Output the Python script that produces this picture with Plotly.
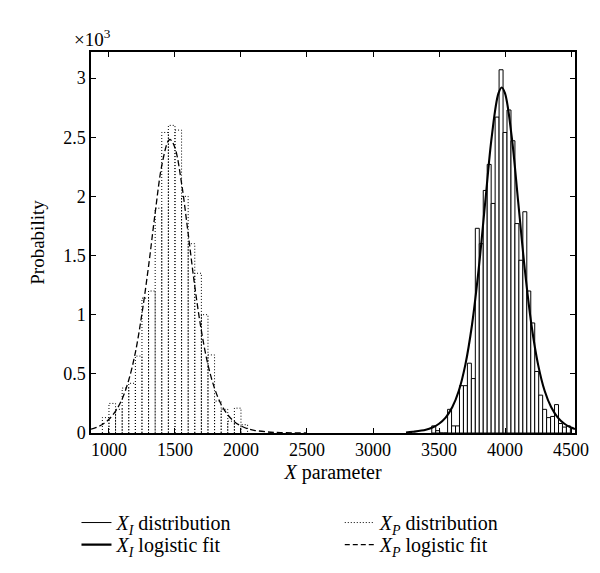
import plotly.graph_objects as go

# ---------------- data ----------------
# X_I distribution histogram (bin width 30)
xi_bin_width = 30
xi_centers = [3460, 3490, 3520, 3550, 3580, 3610, 3640, 3670, 3700, 3730,
              3760, 3790, 3820, 3850, 3880, 3910, 3940, 3970, 4000, 4030,
              4060, 4090, 4120, 4150, 4180, 4210, 4240, 4270, 4300, 4330,
              4360, 4390, 4420, 4450, 4480]
xi_values = [0.06, 0.02, 0.0, 0.0, 0.20, 0.06, 0.06, 0.40, 0.40, 0.59,
             0.46, 1.73, 1.60, 2.05, 2.27, 1.94, 2.67, 3.07, 2.54, 2.73,
             2.47, 1.77, 1.46, 1.87, 1.20, 0.93, 0.52, 0.32, 0.20, 0.13,
             0.14, 0.24, 0.08, 0.05, 0.06]

# X_P distribution histogram (bin width 50)
xp_bin_width = 50
xp_centers = [975, 1025, 1075, 1125, 1175, 1225, 1275, 1325, 1375, 1425,
              1475, 1525, 1575, 1625, 1675, 1725, 1775, 1825, 1875, 1925,
              1975, 2025]
xp_values = [0.13, 0.25, 0.20, 0.38, 0.42, 0.65, 1.14, 1.20, 1.90, 2.54,
             2.60, 2.56, 2.00, 1.60, 1.35, 1.00, 0.66, 0.27, 0.20, 0.10,
             0.21, 0.07]

# X_I logistic fit
xi_fit_x = [3250, 3300, 3400, 3450, 3500, 3550, 3600, 3650, 3700, 3750,
            3800, 3850, 3900, 3950, 3975, 4000, 4050, 4100, 4150, 4200,
            4250, 4300, 4350, 4400, 4450, 4500, 4530]
xi_fit_y = [0.004, 0.010, 0.027, 0.046, 0.078, 0.130, 0.217, 0.357, 0.58, 0.915,
            1.38, 1.95, 2.51, 2.87, 2.92, 2.87, 2.51, 1.95, 1.38, 0.915,
            0.58, 0.357, 0.217, 0.130, 0.078, 0.046, 0.034]

# X_P logistic fit
xp_fit_x = [864, 900, 950, 1000, 1050, 1100, 1150, 1200, 1250, 1300,
            1350, 1400, 1450, 1465, 1500, 1550, 1600, 1650, 1700, 1750,
            1800, 1850, 1900, 1950, 2000, 2050, 2100, 2200, 2300, 2500]
xp_fit_y = [0.032, 0.045, 0.072, 0.116, 0.184, 0.288, 0.448, 0.68, 1.01, 1.41,
            1.86, 2.26, 2.47, 2.48, 2.41, 2.11, 1.685, 1.24, 0.865, 0.577,
            0.377, 0.241, 0.153, 0.096, 0.060, 0.037, 0.023, 0.009, 0.0035, 0.0005]

x_ticks = [1000, 1500, 2000, 2500, 3000, 3500, 4000, 4500]
y_ticks = [0, 0.5, 1, 1.5, 2, 2.5, 3]
y_ticklabels = ["0", "0.5", "1", "1.5", "2", "2.5", "3"]

# ---------------- figure ----------------
FONT = "Liberation Serif"

# dotted outline of X_P histogram, derived from bin centres/values
xp_outline_x, xp_outline_y = [], []
for c, h in zip(xp_centers, xp_values):
    l, r = c - xp_bin_width / 2, c + xp_bin_width / 2
    xp_outline_x += [l, l, r, r, None]
    xp_outline_y += [0, h, h, 0, None]

fig = go.Figure()

fig.add_trace(go.Bar(
    x=xi_centers, y=xi_values, width=xi_bin_width,
    marker=dict(color="white", line=dict(color="black", width=1)),
    showlegend=False, hoverinfo="x+y"))

fig.add_trace(go.Scatter(
    x=xp_outline_x, y=xp_outline_y, mode="lines",
    line=dict(color="black", width=1, dash="1px,2px"),
    showlegend=False))

fig.add_trace(go.Scatter(
    x=xp_fit_x, y=xp_fit_y, mode="lines", line_shape="spline",
    line=dict(color="black", width=1.3, dash="6px,3px"),
    showlegend=False))

fig.add_trace(go.Scatter(
    x=xi_fit_x, y=xi_fit_y, mode="lines", line_shape="spline",
    line=dict(color="black", width=2.1),
    showlegend=False))

# legend entries (line samples like the reference), one legend box per entry
legend_items = [
    ("<i>X<sub>I</sub></i> distribution", dict(color="black", width=1), "legend"),
    ("<i>X<sub>I</sub></i> logistic fit", dict(color="black", width=2.2), "legend2"),
    ("<i>X<sub>P</sub></i> distribution", dict(color="black", width=1, dash="1px,2px"), "legend3"),
    ("<i>X<sub>P</sub></i> logistic fit", dict(color="black", width=1.3, dash="5px,3px"), "legend4"),
]
for name, ln, lg in legend_items:
    fig.add_trace(go.Scatter(x=[None], y=[None], mode="lines", name=name,
                             line=ln, legend=lg))

axis_common = dict(
    showline=True, linecolor="black", linewidth=1.5, mirror="ticks",
    ticks="inside", ticklen=5, tickwidth=1.2, tickcolor="black",
    showgrid=False, zeroline=False,
    tickfont=dict(family=FONT, size=18, color="black"),
)

fig.update_xaxes(
    range=[864, 4530], tickvals=x_ticks,
    title=dict(text="<i>X</i> parameter", font=dict(family=FONT, size=20, color="black"), standoff=6),
    **axis_common)
fig.update_yaxes(
    range=[0, 3.22], tickvals=y_ticks, ticktext=y_ticklabels,
    title=dict(text="Probability", font=dict(family=FONT, size=19, color="black"), standoff=14),
    **axis_common)

fig.add_annotation(
    text="×10<sup>3</sup>", xref="paper", yref="paper", x=-0.04, y=1.0,
    xanchor="left", yanchor="bottom", showarrow=False,
    font=dict(family=FONT, size=19, color="black"), yshift=0)

def leg(x, y):
    return dict(orientation="v", x=x, xanchor="left", y=y, yanchor="middle",
                itemwidth=30, font=dict(family=FONT, size=20, color="black"),
                bgcolor="rgba(0,0,0,0)", tracegroupgap=0)

fig.update_layout(
    width=600, height=573,
    margin=dict(l=83, r=33, t=44, b=148),
    paper_bgcolor="white", plot_bgcolor="white",
    font=dict(family=FONT, size=18, color="black"),
    barmode="overlay",
    legend=leg(-0.03, -0.235),
    legend2=leg(-0.03, -0.293),
    legend3=leg(0.514, -0.235),
    legend4=leg(0.514, -0.293),
)

fig.write_html("out.html")
